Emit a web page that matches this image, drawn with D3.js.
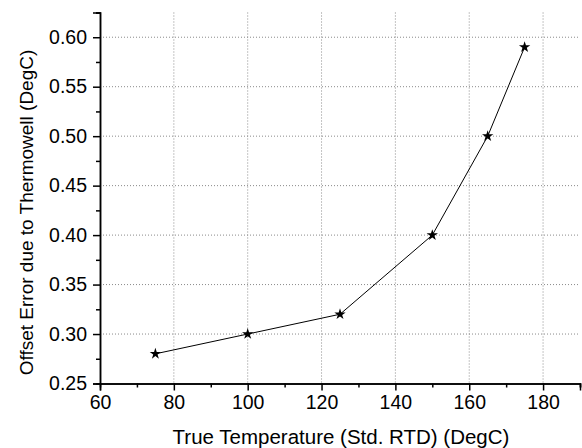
<!DOCTYPE html>
<html>
<head>
<meta charset="utf-8">
<script src="https://cdn.jsdelivr.net/npm/d3@7"></script>
<style>
  body { margin: 0; background: #fff; }
  text { font-family: 'Liberation Sans', Arial, sans-serif; fill: #000; }
</style>
</head>
<body>
<div id="wrapper"></div>
<script>
// Data
const temperatures = [75, 100, 125, 150, 165, 175]
const offsetErrors = [0.28, 0.30, 0.32, 0.40, 0.50, 0.59]
const xTicks = [60, 80, 100, 120, 140, 160, 180]
const yTicks = [0.25, 0.30, 0.35, 0.40, 0.45, 0.50, 0.55, 0.60]

const dataset = temperatures.map((t, i) => ({ x: t, y: offsetErrors[i] }))

// Dimensions
const dimensions = {
  width: 582,
  height: 448,
  margin: { top: 12.5, right: 2, bottom: 64.5, left: 100 },
}
dimensions.boundedWidth = dimensions.width - dimensions.margin.left - dimensions.margin.right
dimensions.boundedHeight = dimensions.height - dimensions.margin.top - dimensions.margin.bottom

const wrapper = d3.select('#wrapper')
  .append('svg')
  .attr('width', dimensions.width)
  .attr('height', dimensions.height)

const bounds = wrapper.append('g')
  .attr('transform', `translate(${dimensions.margin.left},${dimensions.margin.top})`)

// Scales
const xScale = d3.scaleLinear().domain([60, 190]).range([0, dimensions.boundedWidth])
const yScale = d3.scaleLinear().domain([0.25, 0.625]).range([dimensions.boundedHeight, 0])

// Grid (dotted)
const grid = bounds.append('g').attr('stroke', '#8a8a8a').attr('stroke-width', 1).attr('stroke-dasharray', '1,2')
grid.selectAll('.vgrid')
  .data(xTicks.filter(d => d > 60))
  .enter().append('line')
  .attr('x1', d => xScale(d))
  .attr('x2', d => xScale(d))
  .attr('y1', 0)
  .attr('y2', dimensions.boundedHeight)
grid.selectAll('.hgrid')
  .data(yTicks.filter(d => d > 0.25))
  .enter().append('line')
  .attr('x1', 0)
  .attr('x2', dimensions.boundedWidth)
  .attr('y1', d => yScale(d))
  .attr('y2', d => yScale(d))

// Line and markers
const line = d3.line().x(d => xScale(d.x)).y(d => yScale(d.y))
bounds.append('path')
  .datum(dataset)
  .attr('d', line)
  .attr('fill', 'none')
  .attr('stroke', '#000')
  .attr('stroke-width', 1)

const star = d3.symbol().type(d3.symbolStar).size(40)
bounds.selectAll('.marker')
  .data(dataset)
  .enter().append('path')
  .attr('transform', d => `translate(${xScale(d.x)},${yScale(d.y)})`)
  .attr('d', star)
  .attr('fill', '#000')

// Axes
const xAxis = d3.axisBottom(xScale).tickValues(xTicks).tickSize(7).tickPadding(5).tickFormat(d3.format('d'))
const xMinor = d3.axisBottom(xScale).tickValues(d3.range(70, 191, 20)).tickSize(4).tickFormat('')
const yAxis = d3.axisLeft(yScale).tickValues(yTicks).tickSize(7).tickPadding(6).tickFormat(d3.format('.2f'))
const yMinor = d3.axisLeft(yScale).tickValues(d3.range(0.275, 0.63, 0.05)).tickSize(4).tickFormat('')

const styleAxis = g => {
  g.selectAll('.domain').attr('stroke', '#000').attr('stroke-width', 1.5)
  g.selectAll('.tick line').attr('stroke', '#000').attr('stroke-width', 1.5)
  g.selectAll('text').style('font-size', '19.5px').attr('fill', '#000')
}

bounds.append('g').attr('transform', `translate(0,${dimensions.boundedHeight})`).call(xMinor).call(styleAxis)
bounds.append('g').attr('transform', `translate(0,${dimensions.boundedHeight})`).call(xAxis).call(styleAxis)
bounds.append('g').call(yMinor).call(styleAxis)
bounds.append('g').call(yAxis).call(styleAxis)

// Labels
wrapper.append('text')
  .attr('x', 341)
  .attr('y', 444)
  .attr('text-anchor', 'middle')
  .style('font-size', '20.5px')
  .text('True Temperature (Std. RTD) (DegC)')

wrapper.append('text')
  .attr('transform', `translate(33,212.5) rotate(-90)`)
  .attr('text-anchor', 'middle')
  .style('font-size', '19px')
  .text('Offset Error due to Thermowell (DegC)')
</script>
</body>
</html>
